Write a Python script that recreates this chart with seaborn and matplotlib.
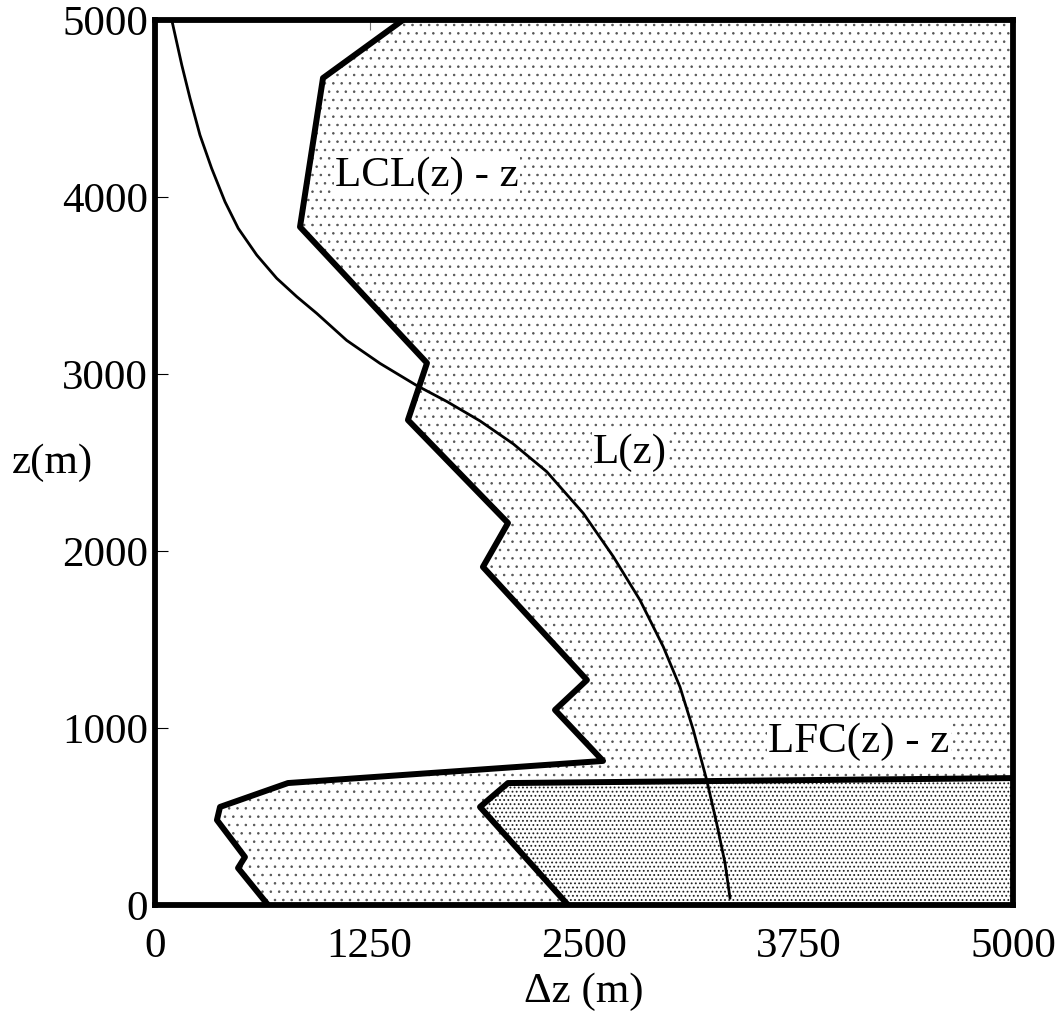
import numpy as np
import pandas as pd
import matplotlib
matplotlib.use("Agg")
import matplotlib.pyplot as plt
import seaborn as sns

# ------------------------------------------
# data (metres)
# ------------------------------------------

# LCL(z) - z  (thick boundary of the light stipple)
lcl_dz = [1445, 979, 845, 1585, 1474, 2057, 1911, 2517, 2331, 2611,
          775, 379, 361, 524, 484, 659]
lcl_z = [5000, 4672, 3831, 3062, 2740, 2158, 1910, 1271, 1102, 814,
         689, 554, 480, 271, 209, 0]

# LFC(z) - z  (thick boundary of the dense stipple)
lfc_dz = [5000, 2057, 1894, 2407]
lfc_z = [717, 689, 554, 0]

# L(z)  (thin curve)
l_dz = [100, 156, 204, 262, 330, 408, 485, 593, 709, 826, 942, 1117,
        1311, 1525, 1700, 1894, 2088, 2283, 2496, 2671, 2826, 2962,
        3059, 3137, 3215, 3273, 3322, 3351]
l_z = [4990, 4746, 4558, 4350, 4162, 3973, 3823, 3672, 3541, 3437, 3343,
       3190, 3060, 2935, 2845, 2735, 2605, 2448, 2213, 1968, 1723, 1459,
       1233, 989, 706, 462, 236, 38]

x_ticks = [0, 1250, 2500, 3750, 5000]
y_ticks = [0, 1000, 2000, 3000, 4000, 5000]

# ------------------------------------------
# style
# ------------------------------------------

sns.set_theme(style="white")
plt.rcParams['font.family'] = ['Liberation Serif', 'DejaVu Serif']
plt.rcParams['text.color'] = 'black'
plt.rcParams['axes.labelcolor'] = 'black'
plt.rcParams['xtick.labelcolor'] = 'black'
plt.rcParams['ytick.labelcolor'] = 'black'
plt.rcParams['hatch.color'] = 'black'

fig = plt.figure(figsize=(10.63, 10.16), dpi=100)
ax = fig.add_axes([155/1063, 1 - 905/1016, 858/1063, 885/1016])

# ------------------------------------------
# stippled regions
# ------------------------------------------

plt.rcParams['hatch.linewidth'] = 0.6
ax.fill_betweenx(lcl_z, lcl_dz, 5000, facecolor='white',
                 edgecolor='#555555', linewidth=0, hatch='..', zorder=1)
plt.rcParams['hatch.linewidth'] = 0.8
ax.fill_betweenx(lfc_z, lfc_dz, 5000, facecolor='white',
                 edgecolor='#222222', linewidth=0, hatch='....', zorder=2)

# ------------------------------------------
# curves
# ------------------------------------------

df_lcl = pd.DataFrame({'dz': lcl_dz, 'z': lcl_z})
df_lfc = pd.DataFrame({'dz': lfc_dz, 'z': lfc_z})
df_l = pd.DataFrame({'dz': l_dz, 'z': l_z})

sns.lineplot(data=df_lcl, x='dz', y='z', sort=False, estimator=None,
             color='black', linewidth=4.3, ax=ax, zorder=4)
sns.lineplot(data=df_lfc, x='dz', y='z', sort=False, estimator=None,
             color='black', linewidth=4.3, ax=ax, zorder=4)
sns.lineplot(data=df_l, x='dz', y='z', sort=False, estimator=None,
             color='black', linewidth=2.0, ax=ax, zorder=5)

# ------------------------------------------
# labels inside the plot
# ------------------------------------------

box = dict(facecolor='white', edgecolor='none', pad=1)
ax.text(1050, 4060, 'LCL(z) - z', fontsize=31, ha='left', va='baseline',
        bbox=box, zorder=6)
ax.text(2552, 2497, 'L(z)', fontsize=31, ha='left', va='baseline',
        bbox=box, zorder=6)
ax.text(3572, 864, 'LFC(z) - z', fontsize=31, ha='left', va='baseline',
        bbox=box, zorder=6)

# ------------------------------------------
# axes
# ------------------------------------------

ax.set_xlim(0, 5000)
ax.set_ylim(0, 5000)
ax.set_xticks(x_ticks)
ax.set_yticks(y_ticks)
ax.set_xticklabels([str(t) for t in x_ticks])
ax.set_yticklabels([str(t) for t in y_ticks])

ax.tick_params(axis='y', direction='in', left=True, right=True,
               length=9.5, width=0.8, color='black', pad=5, labelsize=31)
ax.tick_params(axis='x', direction='in', bottom=True, top=True,
               length=7, width=0.8, color='#777777', pad=16, labelsize=31)

for s in ax.spines.values():
    s.set_linewidth(4.2)
    s.set_color('black')
    s.set_zorder(7)

ax.set_xlabel('Δz (m)', fontsize=31, va='center')
ax.xaxis.set_label_coords(0.5, -0.098)
ax.set_ylabel('z(m)', fontsize=31, rotation=0, ha='center', va='center')
ax.yaxis.set_label_coords(-0.12, 0.5)

plt.savefig('out.png', dpi=100)
